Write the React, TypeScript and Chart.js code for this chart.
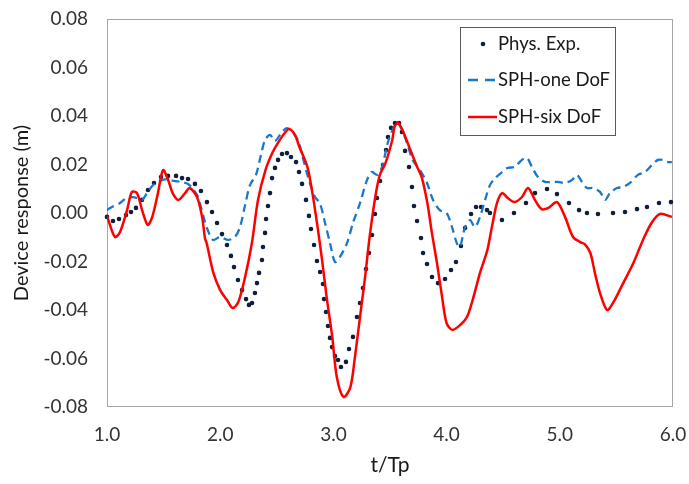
import React, { useEffect, useRef } from "react";
import { Chart, registerables } from "chart.js";

Chart.register(...registerables);

// ---------- data (t/Tp, device response in m) ----------
const expT = [
  1.000, 1.053, 1.106, 1.168, 1.212, 1.256, 1.309, 1.362, 1.415, 1.477,
  1.539, 1.610, 1.663, 1.716, 1.777, 1.830, 1.883, 1.928, 1.972, 2.016,
  2.060, 2.095, 2.122, 2.157, 2.193, 2.228, 2.254, 2.281, 2.307, 2.325,
  2.343, 2.369, 2.378, 2.396, 2.405, 2.422, 2.440, 2.458, 2.484, 2.511,
  2.546, 2.590, 2.625, 2.670, 2.696, 2.723, 2.758, 2.784, 2.802, 2.829,
  2.855, 2.882, 2.908, 2.917, 2.935, 2.952, 2.970, 2.988, 3.014, 3.041,
  3.067, 3.111, 3.138, 3.173, 3.208, 3.235, 3.261, 3.288, 3.314, 3.341,
  3.367, 3.385, 3.412, 3.438, 3.465, 3.482, 3.509, 3.544, 3.580, 3.606,
  3.633, 3.668, 3.694, 3.712, 3.739, 3.774, 3.792, 3.827, 3.871, 3.924,
  3.986, 4.039, 4.083, 4.127, 4.163, 4.216, 4.260, 4.304, 4.357, 4.383,
  4.489, 4.595, 4.701, 4.781, 4.887, 4.975, 5.081, 5.170, 5.240, 5.337,
  5.470, 5.576, 5.682, 5.770, 5.876, 5.982,
];
const expV = [
  -0.0016, -0.0033, -0.0025, -0.0008, 0.0004, 0.0021, 0.0054, 0.0095, 0.0124, 0.0148,
  0.0153, 0.0153, 0.0144, 0.0140, 0.0120, 0.0091, 0.0045, 0.0004, -0.0041, -0.0087,
  -0.0132, -0.0177, -0.0223, -0.0276, -0.0318, -0.0355, -0.0379, -0.0371, -0.0330, -0.0289,
  -0.0247, -0.0194, -0.0140, -0.0082, -0.0025, 0.0029, 0.0082, 0.0144, 0.0186, 0.0219,
  0.0243, 0.0247, 0.0231, 0.0210, 0.0169, 0.0120, 0.0054, -0.0012, -0.0066, -0.0132,
  -0.0198, -0.0243, -0.0293, -0.0355, -0.0408, -0.0466, -0.0515, -0.0553, -0.0590, -0.0606,
  -0.0635, -0.0614, -0.0561, -0.0511, -0.0429, -0.0371, -0.0309, -0.0231, -0.0165, -0.0091,
  -0.0004, 0.0062, 0.0132, 0.0198, 0.0260, 0.0313, 0.0351, 0.0371, 0.0371, 0.0334,
  0.0256, 0.0190, 0.0107, 0.0029, -0.0033, -0.0103, -0.0165, -0.0210, -0.0264, -0.0289,
  -0.0272, -0.0235, -0.0202, -0.0136, -0.0062, -0.0004, 0.0025, 0.0025, 0.0012, 0.0,
  -0.0029, 0.0, 0.0041, 0.0082, 0.0099, 0.0078, 0.0041, 0.0012, 0.0, -0.0004,
  0.0, 0.0004, 0.0016, 0.0025, 0.0041, 0.0045,
];

const oneT = [
  1.00, 1.044, 1.115, 1.186, 1.265, 1.31, 1.353, 1.406, 1.468, 1.53,
  1.59, 1.654, 1.716, 1.76, 1.804, 1.848, 1.883, 1.936, 1.998, 2.07,
  2.13, 2.175, 2.22, 2.263, 2.316, 2.36, 2.396, 2.44, 2.484, 2.546,
  2.59, 2.643, 2.687, 2.72, 2.776, 2.837, 2.88, 2.926, 2.97, 3.014,
  3.058, 3.12, 3.173, 3.235, 3.297, 3.34, 3.385, 3.43, 3.48, 3.535,
  3.57, 3.606, 3.65, 3.70, 3.765, 3.827, 3.88, 3.94, 4.00, 4.048,
  4.09, 4.118, 4.163, 4.207, 4.25, 4.295, 4.34, 4.383, 4.43, 4.49,
  4.54, 4.60, 4.666, 4.71, 4.754, 4.807, 4.87, 4.93, 4.984, 5.046,
  5.108, 5.152, 5.196, 5.24, 5.293, 5.355, 5.40, 5.443, 5.505, 5.558,
  5.62, 5.69, 5.753, 5.814, 5.867, 5.91, 5.956, 5.99,
];
const oneV = [
  0.0012, 0.0025, 0.0041, 0.0066, 0.0062, 0.0054, 0.0082, 0.0115, 0.0132, 0.014,
  0.0132, 0.0128, 0.012, 0.0099, 0.0066, -0.0008, -0.0062, -0.0111, -0.0099, -0.0111,
  -0.0099, -0.0058, 0.0033, 0.0115, 0.0157, 0.0239, 0.0301, 0.0322, 0.0297, 0.0334,
  0.035, 0.033, 0.0301, 0.0247, 0.0148, 0.0066, 0.0041, -0.0041, -0.0124, -0.0202,
  -0.0181, -0.0124, -0.0041, 0.0041, 0.0136, 0.0169, 0.0157, 0.019, 0.0289, 0.0355,
  0.0371, 0.0342, 0.0289, 0.0219, 0.0177, 0.0124, 0.0054, 0.0012, 0.0, -0.0058,
  -0.0124, -0.014, -0.0058, -0.0029, -0.0058, -0.0016, 0.0054, 0.0115, 0.0144, 0.0169,
  0.0186, 0.019, 0.0219, 0.0227, 0.019, 0.0148, 0.0128, 0.0128, 0.0128, 0.0124,
  0.0136, 0.0157, 0.0128, 0.0103, 0.0103, 0.0087, 0.0054, 0.0082, 0.0103, 0.0107,
  0.0124, 0.0157, 0.0169, 0.0198, 0.0219, 0.0219, 0.021, 0.021,
];

const sixT = [
  1.00, 1.07, 1.115, 1.177, 1.22, 1.265, 1.31, 1.36, 1.40, 1.45,
  1.495, 1.54, 1.58, 1.63, 1.69, 1.73, 1.795, 1.84, 1.865, 1.88,
  1.94, 2.00, 2.06, 2.11, 2.16, 2.22, 2.28, 2.334, 2.40, 2.46,
  2.51, 2.57, 2.61, 2.66, 2.70, 2.77, 2.81, 2.855, 2.90, 2.94,
  2.99, 3.03, 3.09, 3.15, 3.19, 3.235, 3.28, 3.32, 3.37, 3.41,
  3.46, 3.52, 3.54, 3.57, 3.61, 3.68, 3.74, 3.78, 3.83, 3.87,
  3.915, 3.96, 4.00, 4.05, 4.12, 4.18, 4.23, 4.295, 4.36, 4.40,
  4.445, 4.49, 4.54, 4.60, 4.666, 4.72, 4.78, 4.84, 4.90, 4.975,
  5.046, 5.117, 5.18, 5.22, 5.27, 5.31, 5.355, 5.417, 5.47, 5.56,
  5.65, 5.735, 5.81, 5.885, 5.99,
];
const sixV = [
  -0.0012, -0.0099, -0.0078, 0.0012, 0.0087, 0.0082, 0.0012, -0.0049, -0.0016, 0.0082,
  0.0177, 0.0136, 0.0082, 0.0054, 0.0082, 0.0103, 0.0066, -0.0016, -0.0103, -0.0124,
  -0.0247, -0.0318, -0.0359, -0.0392, -0.0367, -0.0264, -0.0124, 0.0054, 0.0177, 0.0247,
  0.0289, 0.033, 0.0346, 0.0322, 0.0272, 0.019, 0.0095, -0.0041, -0.0194, -0.0346,
  -0.0511, -0.0676, -0.0759, -0.0718, -0.0594, -0.0429, -0.0264, -0.0099, 0.0066, 0.0157,
  0.0206, 0.0301, 0.0355, 0.0371, 0.0342, 0.026, 0.019, 0.0148, 0.0041, -0.0082,
  -0.0206, -0.0346, -0.0454, -0.0482, -0.0462, -0.0429, -0.0359, -0.0247, -0.0153, -0.0058,
  0.0041, 0.0082, 0.0062, 0.0045, 0.0066, 0.0103, 0.0054, 0.0016, 0.0021, 0.0045,
  -0.0016, -0.0099, -0.012, -0.0128, -0.0165, -0.0247, -0.033, -0.04, -0.0371, -0.0289,
  -0.0206, -0.0111, -0.0041, -0.0004, -0.0016,
];

const seriesNames = ["Phys. Exp.", "SPH-one DoF", "SPH-six DoF"];
const xTickValues = [1, 2, 3, 4, 5, 6];
const yTickValues = [-0.08, -0.06, -0.04, -0.02, 0, 0.02, 0.04, 0.06, 0.08];
const xTitle = "t/Tp";
const yTitle = "Device response (m)";

// ---------- styles ----------
const FONT = "Lato, 'Open Sans', sans-serif";
const DOT_COLOR = "#0e1f3d";
const BLUE = "#1a78c8";
const RED = "#ff0000";

const pairs = (t: number[], v: number[]) => t.map((x, i) => ({ x, y: v[i] }));

const framePlugin = {
  id: "frame",
  beforeDatasetsDraw(chart: any) {
    const { ctx, chartArea: a } = chart;
    ctx.save();
    ctx.strokeStyle = "#a6a6a6";
    ctx.lineWidth = 1;
    ctx.strokeRect(
      Math.round(a.left) + 0.5,
      Math.round(a.top) + 0.5,
      Math.round(a.right - a.left) - 1,
      Math.round(a.bottom - a.top) - 1
    );
    ctx.restore();
  },
};

const legendPlugin = {
  id: "boxLegend",
  afterDraw(chart: any) {
    const { ctx, chartArea: a } = chart;
    const x0 = Math.round(a.right) - 213;
    const y0 = Math.round(a.top) + 8;
    const w = 155;
    const h = 108;
    ctx.save();
    ctx.fillStyle = "#ffffff";
    ctx.fillRect(x0, y0, w, h);
    ctx.strokeStyle = "#595959";
    ctx.lineWidth = 1;
    ctx.strokeRect(x0 + 0.5, y0 + 0.5, w, h);
    const rows = [y0 + 17, y0 + 53, y0 + 90];
    ctx.fillStyle = DOT_COLOR;
    ctx.beginPath();
    ctx.arc(x0 + 23, rows[0], 2.3, 0, Math.PI * 2);
    ctx.fill();
    ctx.strokeStyle = BLUE;
    ctx.lineWidth = 2.5;
    ctx.setLineDash([10, 7]);
    ctx.beginPath();
    ctx.moveTo(x0 + 8, rows[1]);
    ctx.lineTo(x0 + 36, rows[1]);
    ctx.stroke();
    ctx.setLineDash([]);
    ctx.strokeStyle = RED;
    ctx.beginPath();
    ctx.moveTo(x0 + 8, rows[2]);
    ctx.lineTo(x0 + 37, rows[2]);
    ctx.stroke();
    ctx.fillStyle = "#1a1a1a";
    ctx.font = `18.5px ${FONT}`;
    ctx.textBaseline = "middle";
    ctx.textAlign = "left";
    seriesNames.forEach((n, i) => ctx.fillText(n, x0 + 38, rows[i]));
    ctx.restore();
  },
};

export default function App() {
  const ref = useRef<HTMLCanvasElement | null>(null);

  useEffect(() => {
    if (!ref.current) return;
    const chart = new Chart(ref.current, {
      type: "scatter",
      data: {
        datasets: [
          {
            label: seriesNames[0],
            data: pairs(expT, expV),
            showLine: false,
            pointRadius: 2.3,
            pointBorderWidth: 0,
            pointBackgroundColor: DOT_COLOR,
            pointBorderColor: DOT_COLOR,
            order: 2,
            clip: 4,
          },
          {
            label: seriesNames[1],
            data: pairs(oneT, oneV),
            showLine: true,
            borderColor: BLUE,
            borderWidth: 2.3,
            borderDash: [8, 5],
            pointRadius: 0,
            tension: 0.3,
            order: 1,
          },
          {
            label: seriesNames[2],
            data: pairs(sixT, sixV),
            showLine: true,
            borderColor: RED,
            borderWidth: 2.5,
            pointRadius: 0,
            tension: 0.3,
            order: 0,
          },
        ] as any,
      },
      options: {
        animation: false,
        responsive: false,
        devicePixelRatio: 1,
        layout: { padding: { left: 0, top: 19, right: 16, bottom: 0 } },
        plugins: {
          legend: { display: false },
          tooltip: { enabled: false },
        },
        scales: {
          x: {
            type: "linear",
            min: 1,
            max: 6,
            afterFit: (s: any) => {
              s.height = 77;
              s.paddingLeft = 0;
              s.paddingRight = 0;
            },
            afterBuildTicks: (s: any) => {
              s.ticks = xTickValues.map((value) => ({ value }));
            },
            grid: { display: false, drawTicks: false },
            border: { display: false },
            ticks: {
              padding: 16,
              color: "#333333",
              font: { family: FONT, size: 19 },
              callback: (v: any) => Number(v).toFixed(1),
            },
            title: {
              display: true,
              text: xTitle,
              color: "#1a1a1a",
              font: { family: FONT, size: 21 },
              padding: { top: 0, bottom: 6 },
            },
          },
          y: {
            type: "linear",
            min: -0.08,
            max: 0.08,
            afterFit: (s: any) => {
              s.width = 107;
              s.paddingTop = 0;
              s.paddingBottom = 0;
            },
            afterBuildTicks: (s: any) => {
              s.ticks = yTickValues.map((value) => ({ value }));
            },
            grid: { display: false, drawTicks: false },
            border: { display: false },
            ticks: {
              padding: 19,
              color: "#333333",
              font: { family: FONT, size: 19 },
              callback: (v: any) => Number(v).toFixed(2),
            },
            title: {
              display: true,
              text: yTitle,
              color: "#1a1a1a",
              font: { family: FONT, size: 20 },
              padding: { top: 10, bottom: 0 },
            },
          },
        },
      } as any,
      plugins: [framePlugin, legendPlugin],
    });
    return () => chart.destroy();
  }, []);

  return (
    <div style={{ position: "absolute", left: 0, top: 0, width: 689, height: 484, background: "#fff" }}>
      <canvas ref={ref} width={689} height={484} style={{ display: "block", width: 689, height: 484 }} />
    </div>
  );
}
